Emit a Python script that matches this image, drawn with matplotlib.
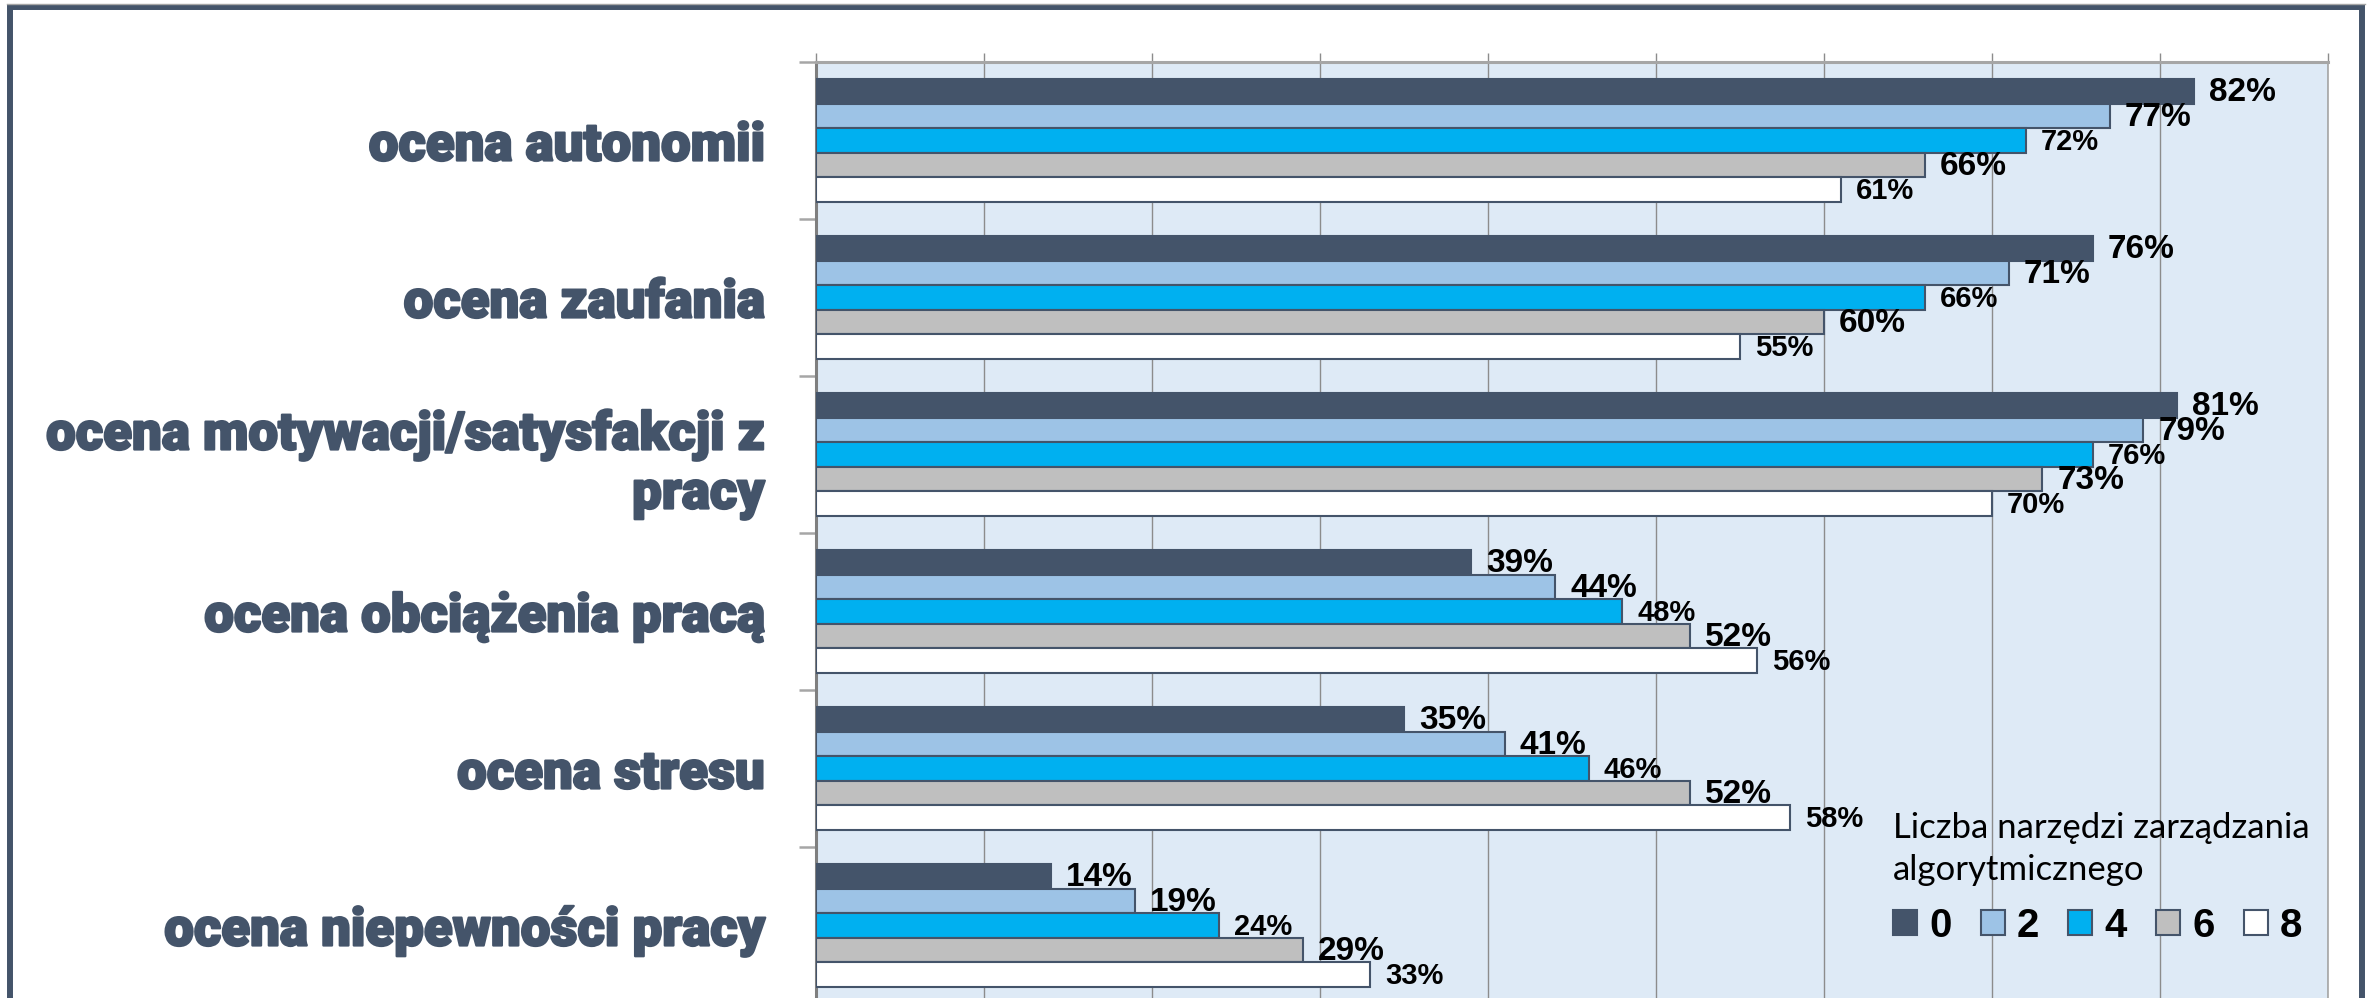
import numpy as np
import matplotlib
matplotlib.use("Agg")
import matplotlib.pyplot as plt
import matplotlib.patheffects as pe
from matplotlib.patches import Rectangle, Patch
from matplotlib.lines import Line2D

# dane (procenty)
categories = [
    "ocena autonomii",
    "ocena zaufania",
    "ocena motywacji/satysfakcji z\npracy",
    "ocena obciążenia pracą",
    "ocena stresu",
    "ocena niepewności pracy",
]
series_names = ["0", "2", "4", "6", "8"]
val_0 = [82, 76, 81, 39, 35, 14]
val_2 = [77, 71, 79, 44, 41, 19]
val_4 = [72, 66, 76, 48, 46, 24]
val_6 = [66, 60, 73, 52, 52, 29]
val_8 = [61, 55, 70, 56, 58, 33]
series_values = [val_0, val_2, val_4, val_6, val_8]

colors = ["#44546A", "#9DC3E6", "#00B0F0", "#BFBFBF", "#FFFFFF"]
edge = "#44546A"
label_sizes = [24, 24, 21, 24, 21]

W, H = 2374, 998
fig = plt.figure(figsize=(W / 100, H / 100), dpi=100)
fig.patch.set_facecolor("white")

ax_left, ax_right = 816, 2328
ax_top, ax_bottom = 62, 1004
ax = fig.add_axes([ax_left / W, (H - ax_bottom) / H,
                   (ax_right - ax_left) / W, (ax_bottom - ax_top) / H])
ax.set_facecolor("#DEEAF6")

n = len(series_values)
bar_h = 1.0 / (n + 1.38)
y = np.arange(len(categories))

for j, vals in enumerate(series_values):
    pos = y + (j - (n - 1) / 2) * bar_h
    ax.barh(pos, np.array(vals) / 100.0, height=bar_h, color=colors[j],
            edgecolor=edge, linewidth=1.5, zorder=3)
    for p, v in zip(pos, vals):
        ax.text(v / 100.0 + 0.009, p + 0.01, f"{v}%", ha="left", va="center",
                fontsize=label_sizes[j], fontweight="bold",
                family=["Liberation Sans", "DejaVu Sans"], color="black", zorder=4)

ax.set_xlim(0, 0.9)
ax.set_ylim(len(categories) - 0.5, -0.5)

# siatka pionowa co 10%
ax.set_xticks(np.arange(0, 0.91, 0.1))
ax.xaxis.tick_top()
ax.tick_params(axis="x", which="major", length=6.5, width=1.0, color="#8C8C8C",
               labeltop=False, labelbottom=False, direction="out")
ax.grid(axis="x", color="#8C8C8C", linewidth=1.0, zorder=1)
ax.set_axisbelow(True)

# kategorie
ax.set_yticks(y)
ax.set_yticklabels(categories, fontsize=38, fontweight="black",
                   family=["Roboto", "DejaVu Sans"], color="#44546A")
ax.tick_params(axis="y", which="major", length=0, pad=37)
ax.set_yticks(np.arange(-0.5, len(categories), 1.0), minor=True)
ax.tick_params(axis="y", which="minor", length=12, width=1.8, color="#A6A6A6",
               direction="out")
for lbl in ax.get_yticklabels():
    lbl.set_horizontalalignment("right")
    lbl.set_multialignment("right")
    lbl.set_linespacing(1.2)
    lbl.set_path_effects([pe.withStroke(linewidth=1.6, foreground="#44546A")])

for side in ["top", "left", "right", "bottom"]:
    ax.spines[side].set_visible(True)
ax.spines["top"].set_color("#A6A6A6")
ax.spines["top"].set_linewidth(2.2)
ax.spines["left"].set_color("#7F7F7F")
ax.spines["left"].set_linewidth(2.2)
ax.spines["right"].set_color("#A6A6A6")
ax.spines["right"].set_linewidth(1.2)
ax.spines["bottom"].set_visible(False)

# legenda
handles = [Patch(facecolor=colors[j], edgecolor=edge, linewidth=1.5, label=series_names[j])
           for j in range(n)]
leg = ax.legend(handles=handles, ncol=5, frameon=False,
                title="Liczba narzędzi zarządzania\nalgorytmicznego",
                loc="upper left", bbox_to_anchor=(1893 / W, 1 - 812 / H),
                bbox_transform=fig.transFigure, borderpad=0, borderaxespad=0,
                handlelength=0.6, handleheight=0.6, handletextpad=0.3,
                columnspacing=0.72, alignment="left",
                prop={"family": ["Liberation Sans", "DejaVu Sans"], "weight": "bold", "size": 29})
leg.get_title().set_fontfamily(["Lato", "DejaVu Sans"])
leg.get_title().set_fontsize(25)
leg.get_title().set_color("black")
leg.get_title().set_linespacing(1.4)
leg.set_zorder(5)

# ramka wokół wykresu
fig.add_artist(Line2D([7 / W, 2365 / W], [1 - 3.5 / H, 1 - 3.5 / H],
                      transform=fig.transFigure, color="#A6A6A6", linewidth=1.0))
fig.add_artist(Rectangle((10 / W, -0.1), (2362 - 10) / W, 1.1 - 7 / H,
                         transform=fig.transFigure, fill=False,
                         edgecolor="#44546A", linewidth=4.3))

fig.savefig("out.png", dpi=100, facecolor=fig.get_facecolor())
